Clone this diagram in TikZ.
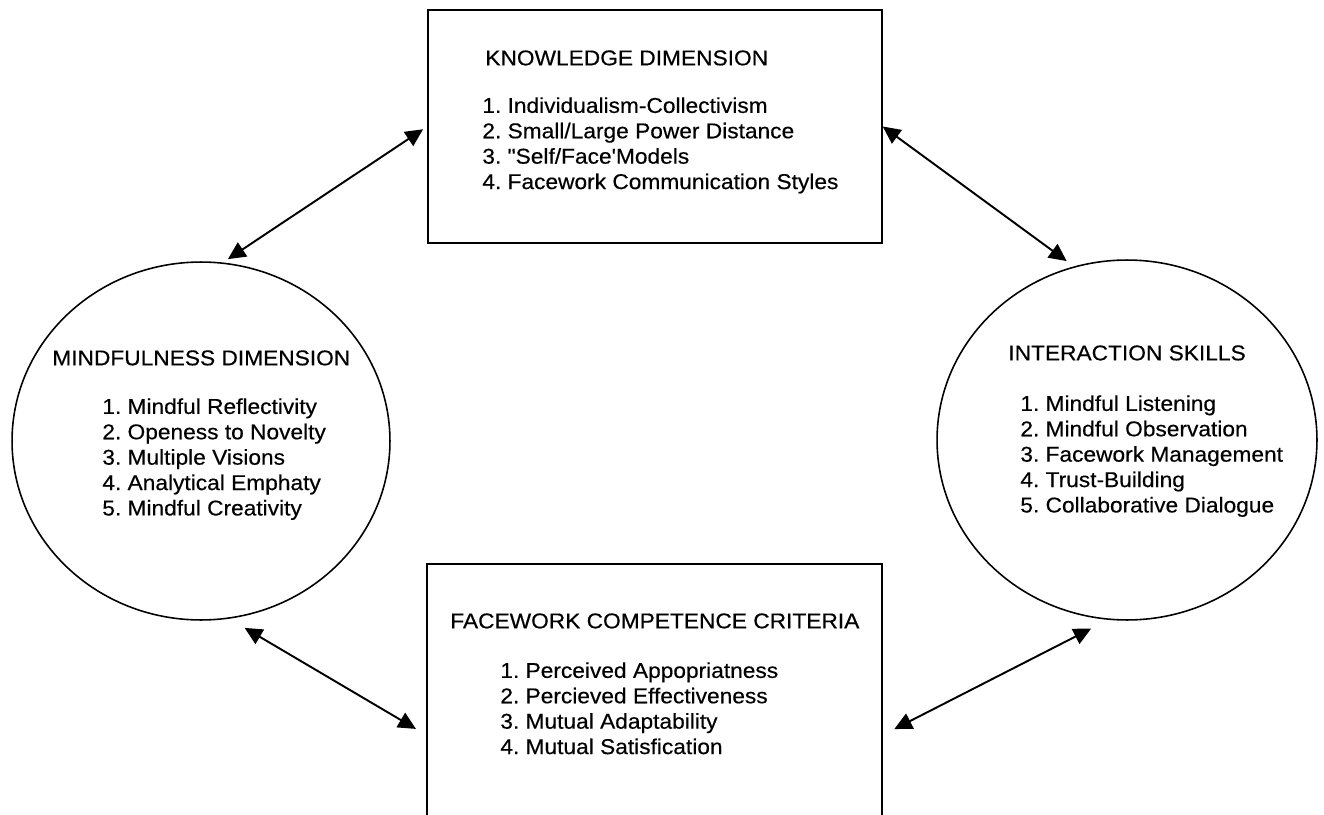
\documentclass[tikz,border=0pt]{standalone}
\usepackage{fontspec}
\setmainfont{Liberation Sans}[FakeStretch=1.06,FakeBold=0.4,Ligatures=TeXOff]
\frenchspacing
\usetikzlibrary{arrows.meta,shapes.geometric}

\tikzset{
  dimbox/.style={draw,line width=0.9pt,inner sep=0pt},
  dimoval/.style={draw,ellipse,line width=0.9pt,inner sep=0pt},
  headtxt/.style={anchor=north west,inner sep=0pt,font=\fontsize{12.2}{14.45}\selectfont},
  listtxt/.style={headtxt,align=left},
  twoway/.style={{Triangle[length=10pt,width=9.5pt]}-{Triangle[length=10pt,width=9.5pt]},line width=1.1pt},
}

\begin{document}
\begin{tikzpicture}[x=0.02cm,y=-0.02cm]
    \useasboundingbox (0,0) rectangle (1324,814);
    \clip (0,0) rectangle (1324,814);
    % the four shapes
    \node[dimbox,minimum width=9.08cm,minimum height=4.66cm] (know) at (655,126.5) {};
    \node[dimbox,minimum width=9.1cm,minimum height=6.84cm] (crit) at (654.5,735) {};
    \node[dimoval,minimum width=7.56cm,minimum height=7.16cm] (mind) at (201,441) {};
    \node[dimoval,minimum width=7.6cm,minimum height=7.2cm] (inter) at (1127,440) {};
    % texts
    \node[headtxt] (knowT) at (485,50) {KNOWLEDGE DIMENSION};
    \node[listtxt] (knowL) at (482,97) {1. Individualism-Collectivism\\2. Small/Large Power Distance\\3. "Self/Face'Models\\4. Facework Communication Styles};
    \node[headtxt] (mindT) at (52,350) {MINDFULNESS DIMENSION};
    \node[listtxt] (mindL) at (102,398) {1. Mindful Reflectivity\\2. Openess to Novelty\\3. Multiple Visions\\4. Analytical Emphaty\\5. Mindful Creativity};
    \node[headtxt] (interT) at (1008,345) {INTERACTION SKILLS};
    \node[listtxt] (interL) at (1020,395) {1. Mindful Listening\\2. Mindful Observation\\3. Facework Management\\4. Trust-Building\\5. Collaborative Dialogue};
    \node[headtxt] (critT) at (450,613) {FACEWORK COMPETENCE CRITERIA};
    \node[listtxt] (critL) at (500,662) {1. Perceived Appopriatness\\2. Percieved Effectiveness\\3. Mutual Adaptability\\4. Mutual Satisfication};
    % arrows
    \draw[twoway,shorten <=0.1cm,shorten >=0.12cm] (know.west) -- (mind.83);
    \draw[twoway,shorten >=0.18cm] (know.east) -- (inter.107);
    \draw[twoway,shorten <=0.36cm,shorten >=0.24cm] (mind.-81) -- (crit.west);
    \draw[twoway,shorten <=0.26cm,shorten >=0.38cm] (crit.east) -- (inter.-96);
\end{tikzpicture}
\end{document}
